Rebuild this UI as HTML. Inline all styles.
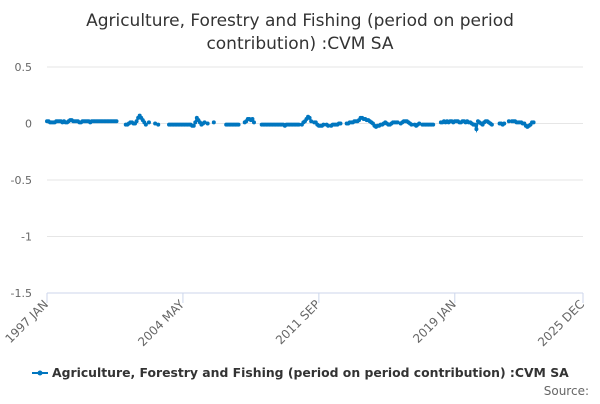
<!DOCTYPE html>
<html><head><meta charset="utf-8"><style>
body{margin:0;background:#fff;font-family:"DejaVu Sans","Liberation Sans",sans-serif}
svg text{font-family:"DejaVu Sans","Liberation Sans",sans-serif}
</style></head><body>
<svg id="c" width="600" height="400">
<text x="300" y="26" text-anchor="middle" font-size="17" fill="#333">Agriculture, Forestry and Fishing (period on period</text>
<text x="300" y="49" text-anchor="middle" font-size="17" fill="#333">contribution) :CVM SA</text>
<g id="grid"></g><g id="xax"></g><g id="series"></g>
<g>
<line x1="32" y1="373" x2="48" y2="373" stroke="#0076bf" stroke-width="2"/>
<circle cx="40" cy="373" r="2.5" fill="#0076bf"/>
<text x="52" y="377" font-size="12.4" font-weight="bold" fill="#333">Agriculture, Forestry and Fishing (period on period contribution) :CVM SA</text>
</g>
<text x="589" y="395" text-anchor="end" font-size="12" fill="#666">Source:</text>
</svg>
<script>
const yTicks=[0.5,0,-0.5,-1,-1.5];
const yTickLabels=["0.5","0","-0.5","-1","-1.5"];
const xTickMonths=[0,88,176,264,347];
const xTickLabels=["1997 JAN","2004 MAY","2011 SEP","2019 JAN","2025 DEC"];
const values=[
0.02,0.02,0.01,0.01,0.01,0.01,0.02,0.02,0.02,0.02,0.01,0.02,0.01,0.01,0.02,0.03,0.03,0.02,0.02,0.02,0.02,0.01,0.01,0.02,0.02,0.02,0.02,0.02,0.01,0.02,0.02,0.02,0.02,0.02,0.02,0.02,0.02,0.02,0.02,0.02,0.02,0.02,0.02,0.02,0.02,0.02,
null,null,null,null,null,
-0.01,-0.01,0,0.01,0.01,0,0,0.02,0.05,0.07,0.05,0.03,0.01,-0.01,null,0.01,null,null,null,0,null,-0.01,
null,null,null,null,null,null,
-0.01,-0.01,-0.01,-0.01,-0.01,-0.01,-0.01,-0.01,-0.01,-0.01,-0.01,-0.01,-0.01,-0.01,-0.01,-0.02,-0.02,
0.01,0.05,0.03,0.01,-0.01,0,0.01,null,0,null,null,null,0.01,null,null,null,null,null,null,null,
-0.01,-0.01,-0.01,-0.01,-0.01,-0.01,-0.01,-0.01,-0.01,
null,null,null,
0.01,0.02,0.04,0.04,0.03,0.04,0.01,
null,null,null,null,
-0.01,-0.01,-0.01,-0.01,-0.01,-0.01,-0.01,-0.01,-0.01,-0.01,-0.01,-0.01,-0.01,-0.01,-0.01,-0.02,-0.01,-0.01,-0.01,-0.01,-0.01,-0.01,-0.01,-0.01,-0.01,
null,
-0.01,0.01,0.02,0.04,0.06,0.05,0.02,null,0.01,0.01,
-0.01,-0.02,-0.02,-0.02,-0.01,null,-0.01,-0.02,null,-0.02,-0.01,-0.01,-0.01,-0.01,0,0,null,null,null,
0,0,0.01,0.01,0.01,0.02,0.02,0.02,0.03,0.05,0.05,0.04,0.04,0.03,0.03,0.02,0.01,0,-0.02,-0.03,-0.02,-0.02,-0.01,-0.01,0,0.01,0,-0.01,-0.01,0,0.01,0.01,
0.01,0.01,null,0,0.01,0.02,0.02,0.02,0.01,0,-0.01,null,-0.01,-0.02,-0.01,0,null,-0.01,-0.01,-0.01,-0.01,-0.01,-0.01,-0.01,-0.01,
null,null,null,null,
0.01,0.01,0.02,0.01,0.02,0.01,0.02,0.02,0.01,0.02,0.02,0.02,0.01,0.01,0.02,0.02,0.01,0.02,0.01,0.01,0,-0.01,-0.01,
-0.05,0.02,0.01,0,-0.01,0.01,0.02,0.02,0.01,0,-0.01,null,null,null,null,0,
0,-0.01,0,null,null,0.02,null,0.02,0.02,0.02,0.01,0.01,0.01,0.01,0,0,-0.02,-0.03,-0.02,-0.01,0.01,0.01
];
const NS="http://www.w3.org/2000/svg";
const X0=47,X1=583,Y0=67,Y1=293;
const xs=m=>X0+(X1-X0)*m/347;
const ys=v=>Y0+(Y1-Y0)*(0.5-v)/2;
const grid=document.getElementById('grid'),xax=document.getElementById('xax'),ser=document.getElementById('series');
function mk(tag,attrs,parent){const e=document.createElementNS(NS,tag);for(const k in attrs)e.setAttribute(k,attrs[k]);parent.appendChild(e);return e;}
yTicks.forEach((t,i)=>{
 const l=mk('line',{x1:X0,x2:X1,y1:ys(t),y2:ys(t),stroke:i==4?'#ccd6eb':'#e6e6e6','stroke-width':1},grid);
 
 
 const tx=mk('text',{x:32,y:ys(t)+4,'text-anchor':'end','font-size':11,fill:'#666'},grid);
 tx.textContent=yTickLabels[i];
 
 
});
xTickMonths.forEach((m,i)=>{
 const x=xs(m);
 const t=mk('line',{x1:x,x2:x,y1:Y1,y2:Y1+10,stroke:'#ccd6eb'},xax);
 
 
 const tx=mk('text',{x:x+2,y:Y1+12,'text-anchor':'end','font-size':12,fill:'#666',transform:`rotate(-45 ${x+2} ${Y1+12})`},xax);
 tx.textContent=xTickLabels[i];
 
 
});
let d='',pen=false;
values.forEach((v,i)=>{
 if(v===null){pen=false;return;}
 d+=(pen?'L':'M')+xs(i).toFixed(1)+' '+ys(v).toFixed(1);pen=true;
});
const p=mk('path',{d:d,fill:'none',stroke:'#0076bf','stroke-width':2},ser);


values.forEach((v,i)=>{
 if(v===null)return;
 const c=mk('circle',{cx:xs(i),cy:ys(v),r:2,fill:'#0076bf'},ser);
 
 
});
</script>
</body></html>
